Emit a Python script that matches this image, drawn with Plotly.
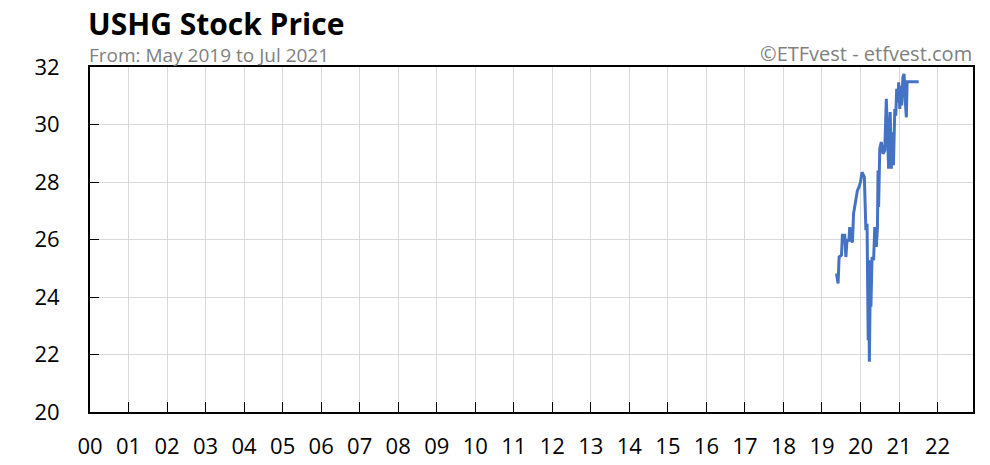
import plotly.graph_objects as go

years = [2019.376, 2019.418, 2019.444, 2019.506, 2019.53, 2019.59, 2019.62, 2019.65, 2019.70, 2019.72,
         2019.77, 2019.79, 2019.82, 2019.87, 2019.92, 2019.96, 2020.0, 2020.04, 2020.09, 2020.10,
         2020.14, 2020.17, 2020.20, 2020.21, 2020.23, 2020.26, 2020.27, 2020.30, 2020.34, 2020.37,
         2020.41, 2020.44, 2020.455, 2020.47, 2020.50, 2020.54, 2020.585, 2020.63, 2020.67, 2020.70,
         2020.73, 2020.77, 2020.80, 2020.83, 2020.855, 2020.89, 2020.915, 2020.94, 2020.97, 2020.99,
         2021.02, 2021.04, 2021.07, 2021.10, 2021.13, 2021.165, 2021.19, 2021.21, 2021.35, 2021.51]
prices = [24.82, 24.47, 25.39, 25.45, 26.15, 26.15, 25.39, 25.97, 25.97, 26.43,
          25.97, 25.90, 26.90, 27.30, 27.71, 27.82, 28.00, 28.34, 28.23, 28.17,
          26.32, 26.55, 22.50, 25.28, 21.75, 25.28, 23.66, 25.39, 25.28, 26.43,
          25.74, 26.43, 28.40, 27.13, 29.16, 29.39, 28.98, 29.10, 30.89, 29.16,
          28.46, 30.43, 28.46, 29.73, 28.58, 30.54, 30.31, 31.24, 30.77, 31.47,
          30.54, 31.35, 30.66, 31.64, 31.76, 30.77, 30.25, 31.49, 31.49, 31.49]

tick_years = list(range(2000, 2023))
tick_labels = ["%02d" % (y % 100) for y in tick_years]
y_ticks = [20, 22, 24, 26, 28, 30, 32]

title = "USHG Stock Price"
subtitle = "From: May 2019 to Jul 2021"
credit = "©ETFvest - etfvest.com"

FONT = "Open Sans"
Y_RANGE = [20, 32]
X_RANGE = [2000, 2022.92]

fig = go.Figure()
fig.add_trace(go.Scatter(x=years, y=prices, mode="lines",
                         line=dict(color="#4472C4", width=3), hoverinfo="skip"))
# empty trace so the overlay axes (inside tick marks) are drawn
fig.add_trace(go.Scatter(x=[], y=[], xaxis="x2", yaxis="y2", hoverinfo="skip"))

# page body has an 8px margin: shrink the figure so the plot area lands where the reference has it
fig.update_layout(
    width=982, height=457,
    margin=dict(l=82, r=17, t=59, b=53),
    paper_bgcolor="white", plot_bgcolor="white",
    showlegend=False,
    font=dict(family=FONT, color="black"),
    xaxis=dict(range=X_RANGE, tickvals=tick_years, ticktext=tick_labels, automargin=False,
               showgrid=True, gridcolor="#d9d9d9", gridwidth=1,
               ticks="outside", ticklen=14, tickcolor="rgba(0,0,0,0)", tickwidth=1,
               showline=True, linecolor="black", linewidth=2, mirror=True,
               tickfont=dict(size=22, family=FONT), zeroline=False),
    yaxis=dict(range=Y_RANGE, tickvals=y_ticks, automargin=False,
               showgrid=True, gridcolor="#d9d9d9", gridwidth=1,
               ticks="outside", ticklen=24, tickcolor="rgba(0,0,0,0)", tickwidth=1,
               showline=True, linecolor="black", linewidth=2, mirror=True,
               tickfont=dict(size=22, family=FONT), zeroline=False),
    xaxis2=dict(range=X_RANGE, tickvals=tick_years, overlaying="x", side="bottom", anchor="y2",
                automargin=False,
                showgrid=False, showticklabels=False, zeroline=False, showline=False,
                ticks="inside", ticklen=10, tickcolor="black", tickwidth=1),
    yaxis2=dict(range=Y_RANGE, tickvals=y_ticks, overlaying="y", side="left", anchor="x2",
                automargin=False,
                showgrid=False, showticklabels=False, zeroline=False, showline=False,
                ticks="inside", ticklen=9, tickcolor="black", tickwidth=1),
    annotations=[
        dict(text="<b>" + title + "</b>", xref="paper", yref="paper", x=-0.004, y=1 + 43/345,
             xanchor="left", yanchor="middle", showarrow=False,
             font=dict(size=30, family=FONT, color="black")),
        dict(text=subtitle, xref="paper", yref="paper", x=-0.003, y=1 + 11.5/345,
             xanchor="left", yanchor="middle", showarrow=False,
             font=dict(size=19, family=FONT, color="#808080")),
        dict(text=credit, xref="paper", yref="paper", x=1.001, y=1 + 13/345,
             xanchor="right", yanchor="middle", showarrow=False,
             font=dict(size=20, family=FONT, color="#808080")),
    ],
)
fig.write_html("out.html")
